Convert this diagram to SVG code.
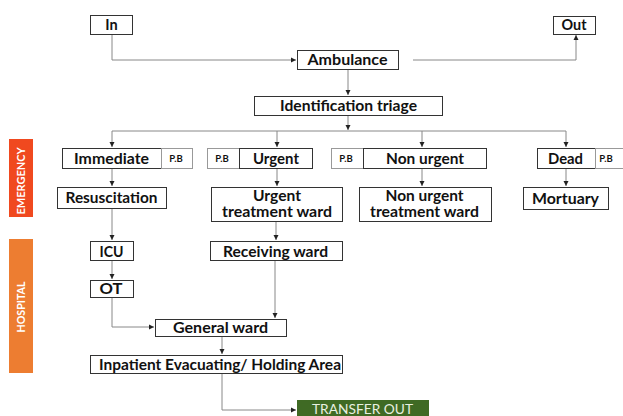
<svg xmlns="http://www.w3.org/2000/svg" width="623" height="416" viewBox="0 0 623 416">
<defs>
<marker id="ah" markerWidth="6" markerHeight="6" refX="5" refY="3" orient="auto" markerUnits="userSpaceOnUse">
<path d="M0,0.5 L5,3 L0,5.5 Z" fill="#222"/>
</marker>
<style>
.box{fill:#fff;stroke:#333;stroke-width:1}
.pb{fill:#fff;stroke:#999;stroke-width:1}
.t{font-family:Lato,"Open Sans","Liberation Sans",sans-serif;font-weight:bold;font-size:14.5px;fill:#111;text-anchor:middle}
.ts{font-family:Lato,"Liberation Sans",sans-serif;font-weight:bold;font-size:9.5px;fill:#111;text-anchor:middle}
.c{fill:none;stroke:#888;stroke-width:1}
.side{font-family:Lato,"Open Sans","Liberation Sans",sans-serif;font-weight:bold;font-size:11px;fill:#fff;text-anchor:middle}
</style>
</defs>
<rect width="623" height="416" fill="#fff"/>
<g id="connectors">
<path class="c" d="M112,34 V60 H296" marker-end="url(#ah)"/>
<path class="c" d="M413,60 H576 V35" marker-end="url(#ah)"/>
<path class="c" d="M348,69 V95" marker-end="url(#ah)"/>
<path class="c" d="M348,116 V130" marker-end="url(#ah)"/>
<path class="c" d="M112,131 H566"/>
<path class="c" d="M112,131 V147" marker-end="url(#ah)"/>
<path class="c" d="M277,131 V147" marker-end="url(#ah)"/>
<path class="c" d="M422,131 V147" marker-end="url(#ah)"/>
<path class="c" d="M566,131 V147" marker-end="url(#ah)"/>
<path class="c" d="M112,168 V186" marker-end="url(#ah)"/>
<path class="c" d="M277,168 V186" marker-end="url(#ah)"/>
<path class="c" d="M422,168 V186" marker-end="url(#ah)"/>
<path class="c" d="M566,168 V186" marker-end="url(#ah)"/>
<path class="c" d="M112,208 V240" marker-end="url(#ah)"/>
<path class="c" d="M276,221 V240" marker-end="url(#ah)"/>
<path class="c" d="M112,260 V279" marker-end="url(#ah)"/>
<path class="c" d="M112,297 V327 H154" marker-end="url(#ah)"/>
<path class="c" d="M275,260 V318" marker-end="url(#ah)"/>
<path class="c" d="M222,336 V354" marker-end="url(#ah)"/>
<path class="c" d="M222,373 V410 H296" marker-end="url(#ah)"/>
</g>
<g id="side-emergency">
<rect x="9" y="139" width="24" height="78" fill="#F0491F"/>
<text class="side" transform="translate(25,181) rotate(-90)" textLength="67" lengthAdjust="spacingAndGlyphs">EMERGENCY</text>
</g>
<g id="side-hospital">
<rect x="9" y="239" width="24" height="134" fill="#ED7D31"/>
<text class="side" transform="translate(25,307) rotate(-90)" textLength="51" lengthAdjust="spacingAndGlyphs">HOSPITAL</text>
</g>
<g id="in"><rect class="box" x="90.5" y="15.5" width="42" height="19"/><text class="t" x="111.5" y="30">In</text></g>
<g id="out"><rect class="box" x="553.5" y="16.5" width="42" height="18"/><text class="t" x="574" y="30" textLength="25" lengthAdjust="spacingAndGlyphs">Out</text></g>
<g id="ambulance"><rect class="box" x="297.5" y="50.5" width="101" height="19"/><text class="t" x="347.5" y="65" textLength="80" lengthAdjust="spacingAndGlyphs">Ambulance</text></g>
<g id="triage"><rect class="box" x="254.5" y="96.5" width="188" height="19"/><text class="t" x="348.5" y="111" textLength="137" lengthAdjust="spacingAndGlyphs">Identification triage</text></g>
<g id="immediate"><rect class="box" x="62.5" y="148.5" width="99" height="20"/><text class="t" x="111.5" y="163.5" textLength="75" lengthAdjust="spacingAndGlyphs">Immediate</text></g>
<g id="pb-immediate"><rect class="pb" x="161.5" y="148.5" width="31" height="20"/><text class="ts" x="176" y="162">P.B</text></g>
<g id="pb-urgent"><rect class="pb" x="207.5" y="148.5" width="32" height="20"/><text class="ts" x="222" y="162">P.B</text></g>
<g id="urgent"><rect class="box" x="239.5" y="148.5" width="73" height="20"/><text class="t" x="276" y="163.5" textLength="46" lengthAdjust="spacingAndGlyphs">Urgent</text></g>
<g id="pb-nonurgent"><rect class="pb" x="331.5" y="148.5" width="32" height="20"/><text class="ts" x="346" y="162">P.B</text></g>
<g id="nonurgent"><rect class="box" x="363.5" y="148.5" width="123" height="20"/><text class="t" x="425" y="163.5" textLength="78" lengthAdjust="spacingAndGlyphs">Non urgent</text></g>
<g id="dead"><rect class="box" x="537.5" y="148.5" width="58" height="20"/><text class="t" x="565.5" y="163.5" textLength="35" lengthAdjust="spacingAndGlyphs">Dead</text></g>
<g id="pb-dead"><rect class="pb" x="595.5" y="148.5" width="30" height="20"/><text class="ts" x="606" y="162">P.B</text></g>
<g id="resuscitation"><rect class="box" x="57.5" y="187.5" width="109" height="21"/><text class="t" x="111.5" y="202.5" textLength="92" lengthAdjust="spacingAndGlyphs">Resuscitation</text></g>
<g id="urgent-ward"><rect class="box" x="211.5" y="187.5" width="131" height="34"/><text class="t" x="277" y="200.5" textLength="48" lengthAdjust="spacingAndGlyphs">Urgent</text><text class="t" x="277" y="216.5" textLength="110" lengthAdjust="spacingAndGlyphs">treatment ward</text></g>
<g id="nonurgent-ward"><rect class="box" x="359.5" y="187.5" width="132" height="34"/><text class="t" x="424.5" y="200.5" textLength="78" lengthAdjust="spacingAndGlyphs">Non urgent</text><text class="t" x="424.5" y="216.5" textLength="109" lengthAdjust="spacingAndGlyphs">treatment ward</text></g>
<g id="mortuary"><rect class="box" x="523.5" y="187.5" width="85" height="22"/><text class="t" x="565.5" y="203.5" textLength="67" lengthAdjust="spacingAndGlyphs">Mortuary</text></g>
<g id="icu"><rect class="box" x="90.5" y="241.5" width="43" height="19"/><text class="t" x="111.5" y="256.5" textLength="24" lengthAdjust="spacingAndGlyphs">ICU</text></g>
<g id="receiving"><rect class="box" x="210.5" y="241.5" width="132" height="19"/><text class="t" x="275.5" y="256.5" textLength="105" lengthAdjust="spacingAndGlyphs">Receiving ward</text></g>
<g id="ot"><rect class="box" x="90.5" y="280.5" width="43" height="17"/><text class="t" x="111" y="294" textLength="23" lengthAdjust="spacingAndGlyphs">OT</text></g>
<g id="general"><rect class="box" x="155.5" y="319.5" width="131" height="17"/><text class="t" x="220.5" y="333" textLength="95" lengthAdjust="spacingAndGlyphs">General ward</text></g>
<g id="inpatient"><rect class="box" x="90.5" y="355.5" width="252" height="18"/><text class="t" x="220" y="369.5" textLength="242" lengthAdjust="spacingAndGlyphs">Inpatient Evacuating/ Holding Area</text></g>
<g id="transfer"><rect x="297" y="400" width="132" height="20" fill="#3F6A24"/><text x="362.5" y="414" font-family="Lato,'Open Sans','Liberation Sans',sans-serif" font-size="13" fill="#E8F0E0" text-anchor="middle" textLength="101" lengthAdjust="spacingAndGlyphs">TRANSFER OUT</text></g>
</svg>
